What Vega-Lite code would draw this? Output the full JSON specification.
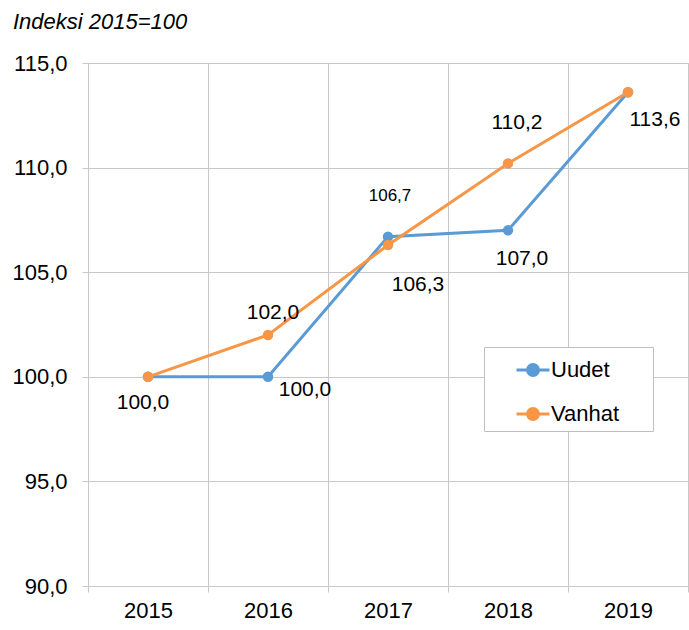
{
  "$schema": "https://vega.github.io/schema/vega-lite/v6.json",
  "width": 600,
  "height": 523,
  "autosize": {"type": "none"},
  "padding": {"left": 88, "top": 63, "right": 1, "bottom": 44},
  "title": {"text": "Indeksi 2015=100", "anchor": "start", "frame": "group", "font": "Liberation Sans", "fontSize": 22, "fontStyle": "italic", "fontWeight": "normal", "color": "#000000", "dx": -75, "offset": 18},
  "config": {
    "font": "Liberation Sans",
    "locale": {"number": {"decimal": ",", "thousands": " ", "grouping": [3], "currency": ["", " €"]}},
    "view": {"stroke": "#c8c8c8", "strokeWidth": 1}
  },
  "data": {"values": [
    {"year": "2015", "series": "Uudet", "value": 100.0},
    {"year": "2016", "series": "Uudet", "value": 100.0},
    {"year": "2017", "series": "Uudet", "value": 106.7},
    {"year": "2018", "series": "Uudet", "value": 107.0},
    {"year": "2019", "series": "Uudet", "value": 113.6},
    {"year": "2015", "series": "Vanhat", "value": 100.0},
    {"year": "2016", "series": "Vanhat", "value": 102.0},
    {"year": "2017", "series": "Vanhat", "value": 106.3},
    {"year": "2018", "series": "Vanhat", "value": 110.2},
    {"year": "2019", "series": "Vanhat", "value": 113.6}
  ]},
  "encoding": {
    "x": {"field": "year", "type": "ordinal", "scale": {"paddingInner": 0, "paddingOuter": 0},
      "axis": {"title": null, "labelAngle": 0, "tickBand": "extent", "grid": true, "gridColor": "#c8c8c8", "domainColor": "#c8c8c8", "tickColor": "#c8c8c8", "tickSize": 6, "labelPadding": 8, "labelFontSize": 22, "labelColor": "#000000", "labelFont": "Liberation Sans"}},
    "y": {"field": "value", "type": "quantitative", "scale": {"domain": [90, 115], "nice": false, "zero": false},
      "axis": {"title": null, "values": [90, 95, 100, 105, 110, 115], "format": ".1f", "grid": true, "gridColor": "#c8c8c8", "domainColor": "#c8c8c8", "tickColor": "#c8c8c8", "tickSize": 6, "labelPadding": 15, "labelFontSize": 22, "labelColor": "#000000", "labelFont": "Liberation Sans"}}
  },
  "layer": [
    {"transform": [{"filter": "datum.series == 'Uudet'"}],
     "mark": {"type": "line", "strokeWidth": 3},
     "encoding": {"color": {"field": "series", "type": "nominal",
       "scale": {"domain": ["Uudet", "Vanhat"], "range": ["#5B9BD5", "#F79646"]},
       "legend": {"title": null, "orient": "none", "legendX": 396, "legendY": 284, "padding": 5,
         "fillColor": "#ffffff", "strokeColor": "#bfbfbf",
         "symbolType": "M-1,0L1,0M-0.33,0A0.33,0.33,0,1,1,0.33,0A0.33,0.33,0,1,1,-0.33,0Z",
         "symbolSize": 1089, "symbolStrokeWidth": 3, "symbolOffset": 26, "labelOffset": 0,
         "rowPadding": 14, "labelFontSize": 22, "labelFont": "Liberation Sans", "labelColor": "#000000",
         "labelExpr": "datum.label + '  \u2800'", "labelLimit": 300,
         "encode": {"symbols": {"update": {"fill": {"scale": "color", "field": "value"}, "stroke": {"scale": "color", "field": "value"}, "strokeWidth": {"value": 3}, "opacity": {"value": 1}}}}}}}},
    {"transform": [{"filter": "datum.series == 'Uudet'"}],
     "mark": {"type": "point", "filled": true, "size": 110, "opacity": 1},
     "encoding": {"color": {"field": "series", "type": "nominal"}}},
    {"transform": [{"filter": "datum.series == 'Vanhat'"}],
     "mark": {"type": "line", "strokeWidth": 3},
     "encoding": {"color": {"field": "series", "type": "nominal"}}},
    {"transform": [{"filter": "datum.series == 'Vanhat'"}],
     "mark": {"type": "point", "filled": true, "size": 110, "opacity": 1},
     "encoding": {"color": {"field": "series", "type": "nominal"}}},
    {"transform": [{"filter": "datum.series == 'Vanhat' && datum.year == '2015'"}],
     "mark": {"type": "text", "fontSize": 21, "color": "#000000", "dx": -5, "dy": 26, "baseline": "middle"},
     "encoding": {"text": {"field": "value", "type": "quantitative", "format": ".1f"}}},
    {"transform": [{"filter": "datum.series == 'Vanhat' && datum.year == '2016'"}],
     "mark": {"type": "text", "fontSize": 21, "color": "#000000", "dx": 5, "dy": -22, "baseline": "middle"},
     "encoding": {"text": {"field": "value", "type": "quantitative", "format": ".1f"}}},
    {"transform": [{"filter": "datum.series == 'Uudet' && datum.year == '2016'"}],
     "mark": {"type": "text", "fontSize": 21, "color": "#000000", "dx": 37, "dy": 13, "baseline": "middle"},
     "encoding": {"text": {"field": "value", "type": "quantitative", "format": ".1f"}}},
    {"transform": [{"filter": "datum.series == 'Uudet' && datum.year == '2017'"}],
     "mark": {"type": "text", "fontSize": 17, "color": "#000000", "dx": 2, "dy": -41, "baseline": "middle"},
     "encoding": {"text": {"field": "value", "type": "quantitative", "format": ".1f"}}},
    {"transform": [{"filter": "datum.series == 'Vanhat' && datum.year == '2017'"}],
     "mark": {"type": "text", "fontSize": 21, "color": "#000000", "dx": 30, "dy": 40, "baseline": "middle"},
     "encoding": {"text": {"field": "value", "type": "quantitative", "format": ".1f"}}},
    {"transform": [{"filter": "datum.series == 'Vanhat' && datum.year == '2018'"}],
     "mark": {"type": "text", "fontSize": 21, "color": "#000000", "dx": 9, "dy": -40, "baseline": "middle"},
     "encoding": {"text": {"field": "value", "type": "quantitative", "format": ".1f"}}},
    {"transform": [{"filter": "datum.series == 'Uudet' && datum.year == '2018'"}],
     "mark": {"type": "text", "fontSize": 21, "color": "#000000", "dx": 14, "dy": 29, "baseline": "middle"},
     "encoding": {"text": {"field": "value", "type": "quantitative", "format": ".1f"}}},
    {"transform": [{"filter": "datum.series == 'Vanhat' && datum.year == '2019'"}],
     "mark": {"type": "text", "fontSize": 21, "color": "#000000", "dx": 27, "dy": 28, "baseline": "middle"},
     "encoding": {"text": {"field": "value", "type": "quantitative", "format": ".1f"}}}
  ]
}
